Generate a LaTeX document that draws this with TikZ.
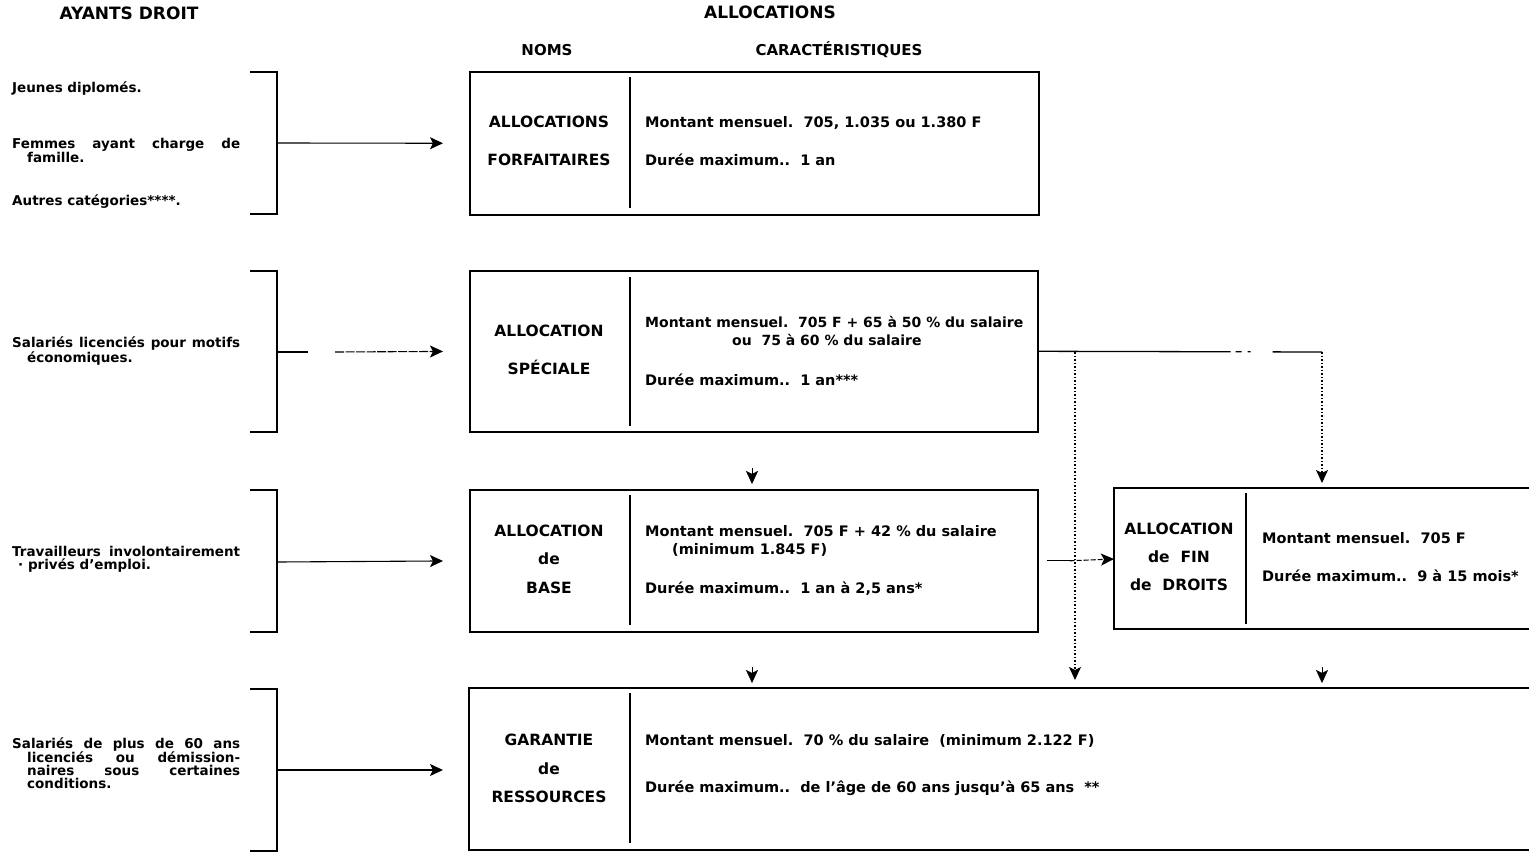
\documentclass[tikz,border=0pt]{standalone}
\usepackage{fontspec}
\setmainfont{DejaVu Sans}
\usetikzlibrary{arrows.meta,positioning,calc}
\tikzset{
  frame/.style={draw, line width=1.6pt, inner sep=0pt, anchor=north west},
  brk/.style={line width=1.6pt},
  rule/.style={line width=1.3pt},
  flow/.style={line width=1.1pt, -{Stealth[length=13pt,width=12pt,inset=3pt]}},
  tip/.style={line width=0.4pt, -{Stealth[length=13pt,width=12pt,inset=3pt]}},
  dots/.style={line width=1.1pt, dash pattern=on 1.5pt off 2pt},
  hdr/.style={font=\fontsize{15}{17}\selectfont\bfseries, inner sep=0pt, anchor=base},
  nom/.style={font=\fontsize{15.5}{17}\selectfont\bfseries, inner sep=0pt, anchor=base},
  txt/.style={font=\fontsize{14.5}{17}\selectfont\bfseries, inner sep=0pt, anchor=base west},
  who/.style={font=\fontsize{13.5}{13}\selectfont\bfseries, inner sep=0pt, anchor=north west, align=left}
}
\newcommand{\jst}[2]{\makebox[#1][s]{#2}}

\begin{document}
\begin{tikzpicture}[x=1pt,y=-1pt]
  \useasboundingbox (0,0) rectangle (1529,864);

  % column headings
  \node[hdr, font=\fontsize{17}{19}\selectfont\bfseries] (hwho) at (129,20) {AYANTS DROIT};
  \node[hdr, font=\fontsize{17}{19}\selectfont\bfseries] (halloc) at (770,19) {ALLOCATIONS};
  \node[hdr] (hnoms) at (547,56) {NOMS};
  \node[hdr] (hcar) at (839,56) {CARACTÉRISTIQUES};

  % beneficiaries
  \node[who] (w1a) at (12,82) {Jeunes diplomés.};
  \node[who] (w1b) at (12,138) {\jst{228pt}{Femmes ayant charge de}\\\hspace*{15pt}famille.};
  \node[who] (w1c) at (12,195) {Autres catégories****.};
  \node[who] (w2) at (12,337) {\jst{228pt}{Salariés licenciés pour motifs}\\\hspace*{15pt}économiques.};
  \node[who] (w3) at (12,546) {\jst{228pt}{Travailleurs involontairement}\\\hspace*{6pt}· privés d'emploi.};
  \node[who] (w4) at (12,737) {\jst{228pt}{Salariés de plus de 60 ans}\\
    \hspace*{15pt}\jst{213pt}{licenciés ou démission-}\\
    \hspace*{15pt}\jst{213pt}{naires sous certaines}\\
    \hspace*{15pt}conditions.};

  % brackets
  \draw[brk] (250,72) -- (277,72) -- (277,214) -- (250,214);
  \draw[brk] (250,271) -- (277,271) -- (277,432) -- (250,432);
  \draw[brk] (250,490) -- (277,490) -- (277,632) -- (250,632);
  \draw[brk] (250,689) -- (277,689) -- (277,851) -- (250,851);
  \coordinate (b1) at (278,143);
  \coordinate (b2) at (278,352);
  \coordinate (b3) at (278,562);
  \coordinate (b4) at (278,770);

  % allowance boxes
  \node[frame, minimum width=569pt, minimum height=143pt] (forf) at (469,71) {};
  \node[frame, minimum width=568pt, minimum height=161pt] (spec) at (469,270) {};
  \node[frame, minimum width=568pt, minimum height=142pt] (base) at (469,489) {};
  \draw[frame] (1529,488) -- (1114,488) -- (1114,629) -- (1529,629);
  \draw[frame] (1529,688) -- (469,688) -- (469,850) -- (1529,850);
  \coordinate (fin) at (1114,559);
  \coordinate (garw) at (469,770);

  % dividers
  \draw[rule] (630,77) -- (630,208);
  \draw[rule] (630,277) -- (630,426);
  \draw[rule] (630,495) -- (630,625);
  \draw[rule] (1246,493) -- (1246,624);
  \draw[rule] (630,693) -- (630,843);

  % names
  \node[nom] (n1a) at (549,128) {ALLOCATIONS};
  \node[nom] (n1b) at (549,165) {FORFAITAIRES};
  \node[nom] (n2a) at (549,336) {ALLOCATION};
  \node[nom] (n2b) at (549,374) {SPÉCIALE};
  \node[nom] (n3a) at (549,536) {ALLOCATION};
  \node[nom] (n3b) at (549,564) {de};
  \node[nom] (n3c) at (549,593) {BASE};
  \node[nom] (n4a) at (1179,534) {ALLOCATION};
  \node[nom] (n4b) at (1179,562) {de\ \ FIN};
  \node[nom] (n4c) at (1179,590) {de\ \ DROITS};
  \node[nom] (n5a) at (549,745) {GARANTIE};
  \node[nom] (n5b) at (549,774) {de};
  \node[nom] (n5c) at (549,802) {RESSOURCES};

  % characteristics
  \node[txt] (c1a) at (645,128) {Montant mensuel.\ \ 705, 1.035 ou 1.380 F};
  \node[txt] (c1b) at (645,165) {Durée maximum..\ \ 1 an};
  \node[txt, font=\fontsize{14}{17}\selectfont\bfseries] (c2a) at (645,327) {Montant mensuel.\ \ 705 F + 65 à 50 \% du salaire};
  \node[txt, font=\fontsize{14}{17}\selectfont\bfseries] (c2b) at (732,345) {ou\ \ 75 à 60 \% du salaire};
  \node[txt] (c2c) at (645,385) {Durée maximum..\ \ 1 an***};
  \node[txt] (c3a) at (645,536) {Montant mensuel.\ \ 705 F + 42 \% du salaire};
  \node[txt] (c3b) at (672,554) {(minimum 1.845 F)};
  \node[txt] (c3c) at (645,593) {Durée maximum..\ \ 1 an à 2,5 ans*};
  \node[txt] (c4a) at (1262,543) {Montant mensuel.\ \ 705 F};
  \node[txt] (c4b) at (1262,581) {Durée maximum..\ \ 9 à 15 mois*};
  \node[txt] (c5a) at (645,745) {Montant mensuel.\ \ 70 \% du salaire\ \ (minimum 2.122 F)};
  \node[txt] (c5b) at (645,792) {Durée maximum..\ \ de l'âge de 60 ans jusqu'à 65 ans\ \ **};

  % arrows from beneficiaries
  \draw[flow, shorten >=26pt] (b1) -- (forf.west);
  \draw[rule] (b2) -- ++(30,0);
  \draw[flow, shorten >=26pt, dash pattern=on 9pt off 1.5pt] ($(b2)+(57,0)$) -- (spec.west);
  \draw[flow, shorten >=26pt] (b3) -- (base.west);
  \draw[flow, shorten >=26pt] (b4) -- (garw);

  % links between allowances
  \coordinate (sr) at (1322,352);
  \coordinate (sd) at (1075,352);
  \draw[rule, dash pattern=on 192pt off 5pt on 6pt off 6pt on 3pt off 22pt on 60pt] (spec.east) -- (sr);
  \draw[dots, -{Stealth[length=13pt,width=12pt,inset=3pt]}, shorten >=5pt] (sr) -- (1322,488);
  \draw[dots, -{Stealth[length=13pt,width=12pt,inset=3pt]}, shorten >=8pt] (sd) -- (1075,688);
  \draw[rule] ($(base.east)+(8,0)$) -- ++(23,0) coordinate (bk);
  \draw[flow, dash pattern=on 5pt off 2pt] (bk) -- (fin);

  % arrow tips standing alone
  \draw[tip] (752,468) -- (752,484);
  \draw[tip] (752,667) -- (752,683);
  \draw[tip] (1322,667) -- (1322,683);
\end{tikzpicture}
\end{document}
